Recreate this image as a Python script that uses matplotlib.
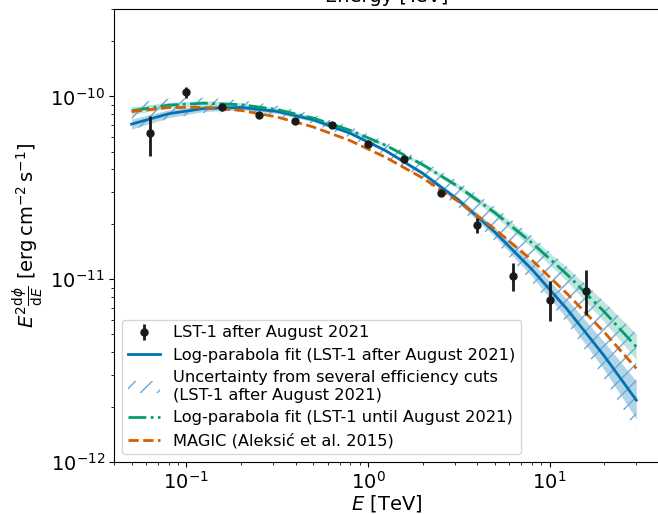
import matplotlib
matplotlib.use("Agg")
import matplotlib.pyplot as plt
import numpy as np
from matplotlib.patches import Patch

# ---------------- data ----------------
# LST-1 after August 2021 flux points
pts_E = [0.063, 0.1, 0.158, 0.251, 0.398, 0.631, 1.0, 1.585, 2.512, 3.98, 6.31, 10.0, 15.85]
pts_F = [6.31e-11, 1.055e-10, 8.79e-11, 7.95e-11, 7.37e-11, 7.01e-11, 5.5e-11,
         4.55e-11, 2.95e-11, 1.98e-11, 1.045e-11, 7.73e-12, 8.59e-12]
pts_up = [7.78e-11, 1.134e-10, 8.79e-11, 7.95e-11, 7.37e-11, 7.01e-11, 5.5e-11,
          4.55e-11, 2.95e-11, 2.17e-11, 1.23e-11, 9.8e-12, 1.12e-11]
pts_lo = [4.75e-11, 9.79e-11, 8.79e-11, 7.95e-11, 7.37e-11, 7.01e-11, 5.5e-11,
          4.55e-11, 2.95e-11, 1.80e-11, 8.65e-12, 5.89e-12, 6.38e-12]

# energies at which the model curves were read
curve_E = [0.05, 0.08, 0.125, 0.2, 0.315, 0.5, 0.8, 1.25, 2.0, 3.15, 5.0, 8.0, 12.5, 20.0, 30.0]

# Log-parabola fit, LST-1 after August 2021
fit_after = [7.06e-11, 8.05e-11, 8.60e-11, 8.71e-11, 8.29e-11, 7.46e-11, 6.29e-11, 5.06e-11,
             3.80e-11, 2.71e-11, 1.81e-11, 1.13e-11, 6.84e-12, 3.80e-12, 2.18e-12]
fit_after_rel = [0.065, 0.051, 0.038, 0.032, 0.025, 0.025, 0.019, 0.019,
                 0.025, 0.038, 0.058, 0.092, 0.134, 0.192, 0.269]

# Log-parabola fit, LST-1 until August 2021
fit_until = [8.36e-11, 8.97e-11, 9.19e-11, 9.02e-11, 8.49e-11, 7.62e-11, 6.53e-11, 5.41e-11,
             4.24e-11, 3.21e-11, 2.31e-11, 1.58e-11, 1.06e-11, 6.63e-12, 4.27e-12]
fit_until_rel = [0.051, 0.038, 0.032, 0.025, 0.019, 0.019, 0.019, 0.019,
                 0.025, 0.032, 0.045, 0.065, 0.092, 0.134, 0.177]

# MAGIC (Aleksic et al. 2015)
magic = [8.27e-11, 8.70e-11, 8.72e-11, 8.39e-11, 7.73e-11, 6.81e-11, 5.73e-11, 4.65e-11,
         3.58e-11, 2.66e-11, 1.88e-11, 1.27e-11, 8.32e-12, 5.13e-12, 3.25e-12]

# Uncertainty from several efficiency cuts (hatched band)
eff_up = [9.18e-11, 9.73e-11, 9.85e-11, 9.55e-11, 8.92e-11, 7.97e-11, 6.83e-11, 5.66e-11,
          4.46e-11, 3.42e-11, 2.49e-11, 1.73e-11, 1.17e-11, 7.51e-12, 5.02e-12]
eff_lo = [6.58e-11, 7.56e-11, 8.13e-11, 8.29e-11, 7.89e-11, 7.09e-11, 5.95e-11, 4.76e-11,
          3.52e-11, 2.48e-11, 1.62e-11, 9.62e-12, 5.74e-12, 2.85e-12, 1.49e-12]

labels = ["LST-1 after August 2021",
          "Log-parabola fit (LST-1 after August 2021)",
          "Uncertainty from several efficiency cuts\n(LST-1 after August 2021)",
          "Log-parabola fit (LST-1 until August 2021)",
          "MAGIC (Aleksić et al. 2015)"]

# ---------------- plotting ----------------
BLUE = "#0173b2"
GREEN = "#029e73"
ORANGE = "#d55e00"
HATCH = "#6fa8d6"

fig = plt.figure(figsize=(6.58, 5.14), dpi=100)
ax = fig.add_axes([114 / 658, 52 / 514, 545 / 658, 452.7 / 514])

E = np.array(curve_E)
fa = np.array(fit_after)
fu = np.array(fit_until)
ra = 1 + np.array(fit_after_rel)
ru = 1 + np.array(fit_until_rel)

ax.fill_between(E, fu / ru, fu * ru, color=GREEN, alpha=0.25, lw=0)
ax.fill_between(E, fa / ra, fa * ra, color=BLUE, alpha=0.3, lw=0)
ax.fill_between(E, eff_lo, eff_up, facecolor="none", edgecolor=HATCH, hatch="//", lw=0)

l_after, = ax.plot(E, fa, color=BLUE, lw=2)
l_until, = ax.plot(E, fu, color=GREEN, lw=2, ls="-.")
l_magic, = ax.plot(E, magic, color=ORANGE, lw=2, ls="--")

F = np.array(pts_F)
yerr = [F - np.array(pts_lo), np.array(pts_up) - F]
eb = ax.errorbar(pts_E, F, yerr=yerr, fmt="o", color="#1a1a1a", ms=5, elinewidth=2,
                 capsize=0, zorder=5)

hatch_handle = Patch(facecolor="none", edgecolor=HATCH, hatch="//", lw=0)

ax.set_xscale("log")
ax.set_yscale("log")
ax.set_xlim(0.04, 40)
ax.set_ylim(1e-12, 3e-10)
ax.spines["right"].set_visible(False)

ax.tick_params(axis="both", which="major", labelsize=14, pad=3)
ax.set_xlabel(r"$E$ [TeV]", fontsize=14, labelpad=0)
ax.set_ylabel(r"$E^2\frac{\mathrm{d}\phi}{\mathrm{d}E}\ [\mathrm{erg\,cm^{-2}\,s^{-1}}]$",
              fontsize=14)

ax.legend([eb, l_after, hatch_handle, l_until, l_magic], labels, loc="lower left",
          fontsize=11.7, handlelength=2.0, labelspacing=0.46, borderpad=0.35)

fig.text(386.5 / 658, 1 - 2 / 514, "Energy [TeV]", ha="center", va="baseline",
         fontsize=14)

fig.savefig("out.png", dpi=100)
